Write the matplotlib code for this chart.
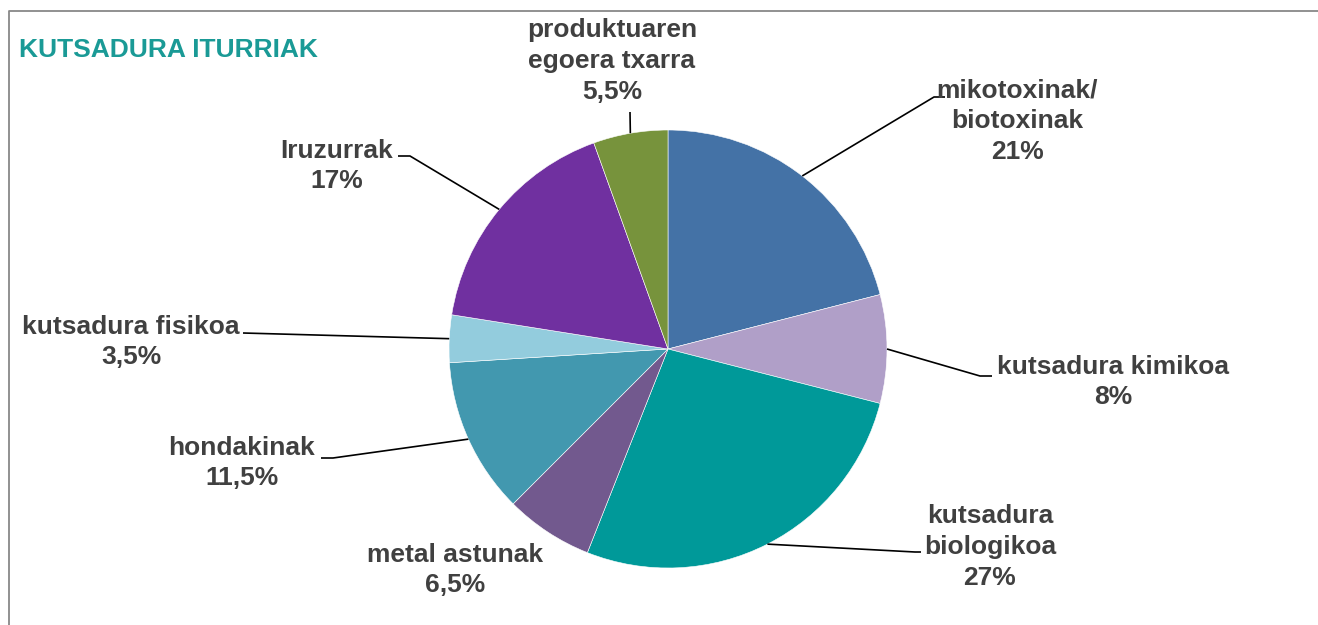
import numpy as np
import matplotlib.pyplot as plt

# chart data
labels = ["mikotoxinak/\nbiotoxinak", "kutsadura kimikoa", "kutsadura\nbiologikoa",
          "metal astunak", "hondakinak", "kutsadura fisikoa", "Iruzurrak",
          "produktuaren\negoera txarra"]
values = [21, 8, 27, 6.5, 11.5, 3.5, 17, 5.5]
pct_text = ["21%", "8%", "27%", "6,5%", "11,5%", "3,5%", "17%", "5,5%"]
colors = ["#4472A6", "#B09FC8", "#009999", "#72598E", "#4298AF", "#93CCDD",
          "#7030A0", "#77933C"]
title = "KUTSADURA ITURRIAK"

W, H = 1318, 625
plt.rcParams['font.family'] = ['Liberation Sans', 'DejaVu Sans']

fig = plt.figure(figsize=(W / 100, H / 100), dpi=100)
ax = fig.add_axes([0, 0, 1, 1])

cx, cy, r = 668, H - 349, 219
wedges, _ = ax.pie(values, colors=colors, startangle=90, counterclock=False,
                   center=(cx, cy), radius=r,
                   wedgeprops=dict(edgecolor="white", linewidth=0.4))
ax.set_xlim(0, W)
ax.set_ylim(0, H)
ax.set_aspect("equal")
ax.axis("off")

# label placement (pixel coords, y from top) and leader elbow points
label_pos = [(1017, 121), (1113, 382), (990, 547), (455, 570),
             (242, 463), (131, 342), (337, 166), (612, 61)]
leaders = [[(934, 97), (945, 97)],
           [(980, 376), (992, 376)],
           [(915, 552), (921, 552)],
           None,
           [(333, 458), (321, 458)],
           [(243, 333)],
           [(410, 156), (398, 156)],
           [(630, 112)]]

for w, lab, pct, pos, lead in zip(wedges, labels, pct_text, label_pos, leaders):
    ax.text(pos[0], H - pos[1], lab + "\n" + pct, ha="center", va="center",
            multialignment="center", fontsize=19, fontweight="bold",
            color="#404040", linespacing=1.36)
    if lead is None:
        continue
    mid = np.deg2rad((w.theta1 + w.theta2) / 2)
    xs = [cx + r * np.cos(mid)] + [p[0] for p in lead]
    ys = [cy + r * np.sin(mid)] + [H - p[1] for p in lead]
    ax.plot(xs, ys, color="black", lw=1.2, solid_capstyle="butt")

ax.text(19, H - 57, title, ha="left", va="baseline", fontsize=19,
        fontweight="bold", color="#1A9A96")

# outer frame (only left and top edges are visible)
ax.plot([8.5, 8.5, W + 5], [-5, H - 11, H - 11], color="#888888", lw=1.3)

fig.savefig("out.png", dpi=100)
